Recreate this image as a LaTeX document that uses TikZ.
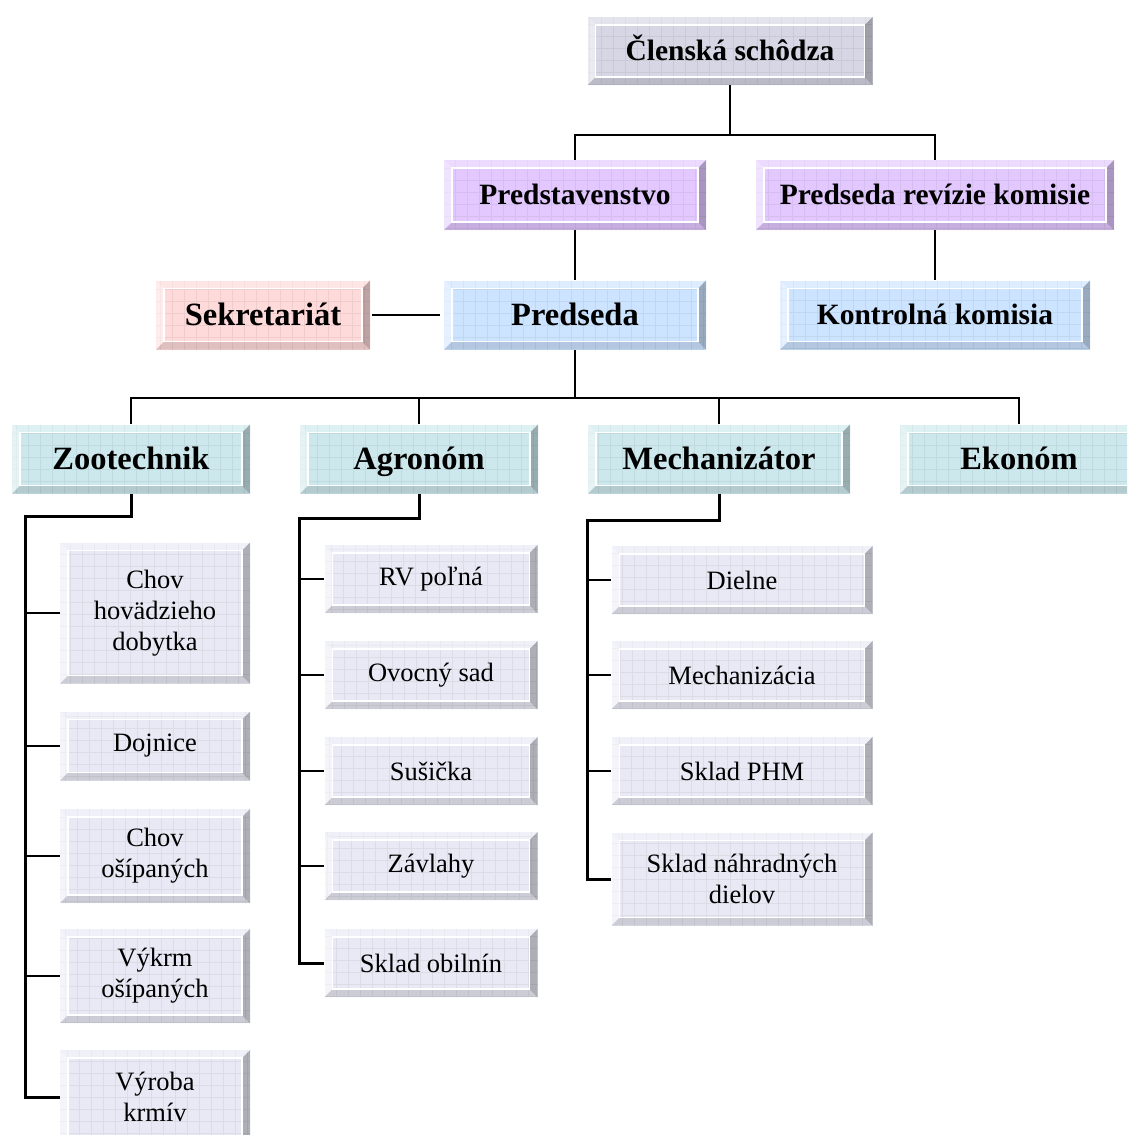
\documentclass[tikz,border=0pt]{standalone}
\usepackage{fontspec}
\setmainfont{Liberation Serif}
\usetikzlibrary{calc}

\definecolor{topgray}{RGB}{214,214,228}
\definecolor{subgray}{RGB}{233,233,245}
\definecolor{violetbox}{RGB}{226,200,255}
\definecolor{bluebox}{RGB}{204,228,255}
\definecolor{pinkbox}{RGB}{255,218,218}
\definecolor{cyanbox}{RGB}{204,232,236}

\tikzset{
  orgbox/.style={draw=none, fill=#1, inner sep=0pt, align=center,
    path picture={
      \def\pb{path picture bounding box}
      % grid pattern
      \draw[step=12pt, #1!75!black, opacity=0.22, line width=0.7pt] (\pb.south west) grid (\pb.north east);
      % bevels
      \fill[white, opacity=0.35] (\pb.north west) -- (\pb.north east) -- ([xshift=-8pt,yshift=-8pt]\pb.north east) -- ([xshift=8pt,yshift=-8pt]\pb.north west) -- cycle;
      \fill[white, opacity=0.5] (\pb.north west) -- ([xshift=8pt,yshift=-8pt]\pb.north west) -- ([xshift=8pt,yshift=8pt]\pb.south west) -- (\pb.south west) -- cycle;
      \fill[black, opacity=0.12] (\pb.south west) -- ([xshift=8pt,yshift=8pt]\pb.south west) -- ([xshift=-8pt,yshift=8pt]\pb.south east) -- (\pb.south east) -- cycle;
      \fill[black, opacity=0.25] (\pb.south east) -- ([xshift=-8pt,yshift=8pt]\pb.south east) -- ([xshift=-8pt,yshift=-8pt]\pb.north east) -- (\pb.north east) -- cycle;
      % inner edge
      \draw[white, line width=1.5pt] ([xshift=8pt,yshift=-8pt]\pb.north west) rectangle ([xshift=-8pt,yshift=8pt]\pb.south east);
    }},
  headtxt/.style={font=\fontsize{29.5}{32}\selectfont\bfseries, text height=20pt, text depth=0.5pt},
  bigtxt/.style={font=\fontsize{32.5}{34}\selectfont\bfseries, text height=22pt, text depth=0.5pt},
  subtxt/.style={font=\fontsize{26.5}{31}\selectfont},
  link/.style={line width=2pt},
  elbow/.style={line width=3pt},
  branch/.style={line width=1.5pt},
}

\begin{document}
\begin{tikzpicture}[x=1pt, y=-1pt]
\useasboundingbox (0,0) rectangle (1127,1135);
\clip (0,0) rectangle (1127,1135);

% top levels
\node[orgbox=topgray, headtxt, minimum width=285pt, minimum height=68pt] (cs) at (730,51) {Členská schôdza};
\node[orgbox=violetbox, headtxt, minimum width=262pt, minimum height=70pt] (pstav) at (575,195) {Predstavenstvo};
\node[orgbox=violetbox, headtxt, minimum width=358pt, minimum height=70pt] (prev) at (935,195) {Predseda revízie komisie};
\node[orgbox=pinkbox, bigtxt, minimum width=214pt, minimum height=69pt] (sekr) at (263,315) {Sekretariát};
\node[orgbox=bluebox, bigtxt, minimum width=262pt, minimum height=69pt] (pred) at (575,315) {Predseda};
\node[orgbox=bluebox, headtxt, minimum width=310pt, minimum height=69pt] (kkom) at (935,315) {Kontrolná komisia};

% departments
\node[orgbox=cyanbox, bigtxt, minimum width=238pt, minimum height=69pt] (zoo) at (131,459) {Zootechnik};
\node[orgbox=cyanbox, bigtxt, minimum width=238pt, minimum height=69pt] (agr) at (419,459) {Agronóm};
\node[orgbox=cyanbox, bigtxt, minimum width=262pt, minimum height=69pt] (mech) at (719,459) {Mechanizátor};
\node[orgbox=cyanbox, bigtxt, minimum width=238pt, minimum height=69pt] (ekon) at (1019,459) {Ekonóm};

% Zootechnik units
\node[orgbox=subgray, subtxt, minimum width=190pt, minimum height=141pt] (z1) at (155,613) {Chov\\hovädzieho\\dobytka};
\node[orgbox=subgray, subtxt, minimum width=190pt, minimum height=69pt] (z2) at (155,746) {Dojnice};
\node[orgbox=subgray, subtxt, minimum width=190pt, minimum height=94pt] (z3) at (155,856) {Chov\\ošípaných};
\node[orgbox=subgray, subtxt, minimum width=190pt, minimum height=94pt] (z4) at (155,976) {Výkrm\\ošípaných};
\node[orgbox=subgray, subtxt, minimum width=190pt, minimum height=94pt] (z5) at (155,1097) {Výroba\\krmív};

% Agronom units
\node[orgbox=subgray, subtxt, minimum width=213pt, minimum height=68pt] (a1) at (431,579) {RV poľná};
\node[orgbox=subgray, subtxt, minimum width=213pt, minimum height=68pt] (a2) at (431,675) {Ovocný sad};
\node[orgbox=subgray, subtxt, minimum width=213pt, minimum height=68pt] (a3) at (431,771) {Sušička};
\node[orgbox=subgray, subtxt, minimum width=213pt, minimum height=68pt] (a4) at (431,866) {Závlahy};
\node[orgbox=subgray, subtxt, minimum width=213pt, minimum height=68pt] (a5) at (431,963) {Sklad obilnín};

% Mechanizator units
\node[orgbox=subgray, subtxt, minimum width=261pt, minimum height=68pt] (m1) at (742,580) {Dielne};
\node[orgbox=subgray, subtxt, minimum width=261pt, minimum height=68pt] (m2) at (742,675) {Mechanizácia};
\node[orgbox=subgray, subtxt, minimum width=261pt, minimum height=68pt] (m3) at (742,771) {Sklad PHM};
\node[orgbox=subgray, subtxt, minimum width=261pt, minimum height=93pt] (m4) at (742,879) {Sklad náhradných\\dielov};

% junctions
\coordinate (j1) at (730,135);
\coordinate (j2) at (575,398);
\coordinate (zr) at (25,516);
\coordinate (ar) at (299,518);
\coordinate (mr) at (587,520);

% upper connectors
\draw[link] (cs.south) -- (j1);
\draw[link] (pstav.north) |- (j1) -| (prev.north);
\draw[link] (pstav.south) -- (pred.north);
\draw[link] (prev.south) -- (kkom.north);
\draw[link] ([xshift=2pt]sekr.east) -- ([xshift=-4pt]pred.west);
\draw[link] (pred.south) -- (j2);
\draw[link] (zoo.north) |- (j2) -| (ekon.north);
\draw[link] (agr.north) |- (j2);
\draw[link] (mech.north) |- (j2);

% unit connectors
\draw[elbow] (zoo.south) |- (zr) |- (z5.west);
\foreach \n in {z1,z2,z3,z4} \draw[branch] (zr |- \n.west) -- (\n.west);
\draw[elbow] (agr.south) |- (ar) |- (a5.west);
\foreach \n in {a1,a2,a3,a4} \draw[branch] (ar |- \n.west) -- (\n.west);
\draw[elbow] (mech.south) |- (mr) |- (m4.west);
\foreach \n in {m1,m2,m3} \draw[branch] (mr |- \n.west) -- (\n.west);

\end{tikzpicture}
\end{document}
